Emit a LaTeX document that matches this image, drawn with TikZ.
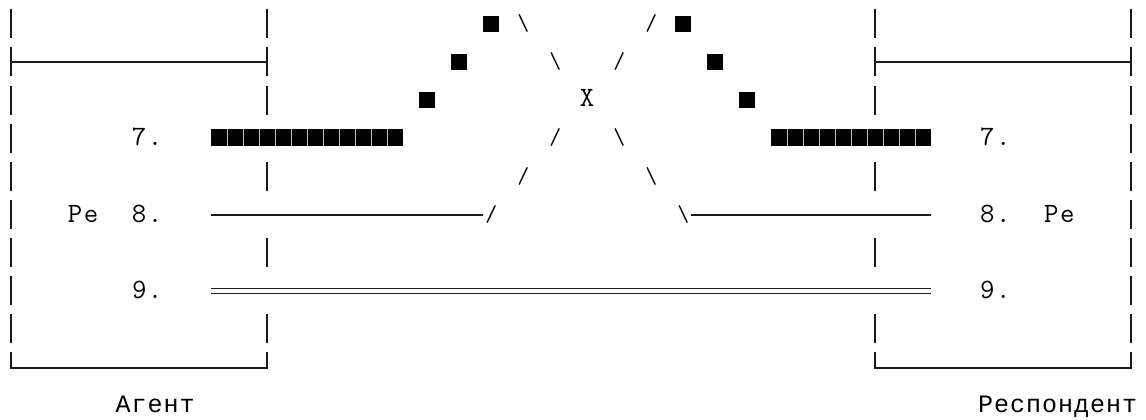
\documentclass[tikz,border=0pt]{standalone}
\usepackage{fontspec}
\newfontfamily\cyrmono[LetterSpace=4]{Liberation Mono}
\tikzset{
  bar/.style={line width=2pt, draw=black!90, line join=miter},
  thinline/.style={line width=1.8pt, draw=black!90},
  dbl/.style={line width=1.5pt, draw=black!90},
  sq/.style={fill=black},
  txt/.style={inner sep=0pt, anchor=base, font=\ttfamily\fontsize{28}{28}\selectfont},
  sl/.style={inner sep=0pt, anchor=center, font=\ttfamily\fontsize{23}{23}\selectfont},
  cyr/.style={inner sep=0pt, anchor=base, font=\cyrmono\fontsize{25}{25}\selectfont},
}
\begin{document}
\begin{tikzpicture}[x=16pt,y=-38.1pt]
\useasboundingbox (-0.7,-0.6194) rectangle (70.925,10.378);
% outer and inner vertical bars
\foreach \r in {0,...,8}{
  \draw[bar] (0,\r-0.375) -- (0,\r+0.386);
  \draw[bar] (70,\r-0.375) -- (70,\r+0.386);
}
\foreach \r in {0,1,2,4,6,8}{
  \draw[bar] (16,\r-0.375) -- (16,\r+0.386);
  \draw[bar] (54,\r-0.375) -- (54,\r+0.386);
}
% row 1 horizontals
\draw[bar] (0,1) -- (16,1);
\draw[bar] (54,1) -- (70,1);
% row 9 box bottoms
\draw[bar] (0,9-0.375) -- (0,9.04) -- (16,9.04) -- (16,9-0.375);
\draw[bar] (54,9-0.375) -- (54,9.04) -- (70,9.04) -- (70,9-0.375);
% squares
\foreach \c/\r in {30/0,28/1,26/2,42/0,44/1,46/2}{
  \fill[sq] (\c-0.5,\r-0.21) rectangle (\c+0.5,\r+0.21);
}
\fill[sq] (12.5,3-0.24) rectangle (24.5,3+0.2);
\fill[sq] (47.5,3-0.24) rectangle (57.5,3+0.2);
\foreach \c in {13.5,14.5,...,23.5,48.5,49.5,...,56.5}{
  \draw[white!75!black, line width=0.5pt] (\c,3-0.24) -- (\c,3+0.2);
}
% row 5 lines
\draw[thinline] (12.5,5.02) -- (29.5,5.02);
\draw[thinline] (42.5,5.02) -- (57.5,5.02);
% row 7 double line
\draw[dbl] (12.5,7-0.05) -- (57.5,7-0.05);
\draw[dbl] (12.5,7+0.085) -- (57.5,7+0.085);
% slashes and X
\node[sl] (s0a) at (32,0) {\textbackslash};
\node[sl] (s0b) at (40,0) {/};
\node[sl] (s1a) at (34,1) {\textbackslash};
\node[sl] (s1b) at (38,1) {/};
\node[txt] (xx) at (36,2.18) {X};
\node[sl] (s3a) at (34,3) {/};
\node[sl] (s3b) at (38,3) {\textbackslash};
\node[sl] (s4a) at (32,4) {/};
\node[sl] (s4b) at (40,4) {\textbackslash};
\node[sl] (s5a) at (30,5) {/};
\node[sl] (s5b) at (42,5) {\textbackslash};
% numbers and labels
\node[txt] (n7L) at (8,3.21) {7};
\node[txt] (p7L) at (9,3.21) {.};
\node[txt] (n7R) at (61,3.21) {7};
\node[txt] (p7R) at (62,3.21) {.};
\node[txt] (peLP) at (4,5.21) {P};
\node[txt] (peLe) at (5,5.21) {e};
\node[txt] (n8L) at (8,5.21) {8};
\node[txt] (p8L) at (9,5.21) {.};
\node[txt] (n8R) at (61,5.21) {8};
\node[txt] (p8R) at (62,5.21) {.};
\node[txt] (peRP) at (65,5.21) {P};
\node[txt] (peRe) at (66,5.21) {e};
\node[txt] (n9L) at (8,7.21) {9};
\node[txt] (p9L) at (9,7.21) {.};
\node[txt] (n9R) at (61,7.21) {9};
\node[txt] (p9R) at (62,7.21) {.};
% bottom captions
\node[cyr] (agent) at (9,10.2) {Агент};
\node[cyr] (resp) at (65.4,10.2) {Респондент};
\end{tikzpicture}
\end{document}
